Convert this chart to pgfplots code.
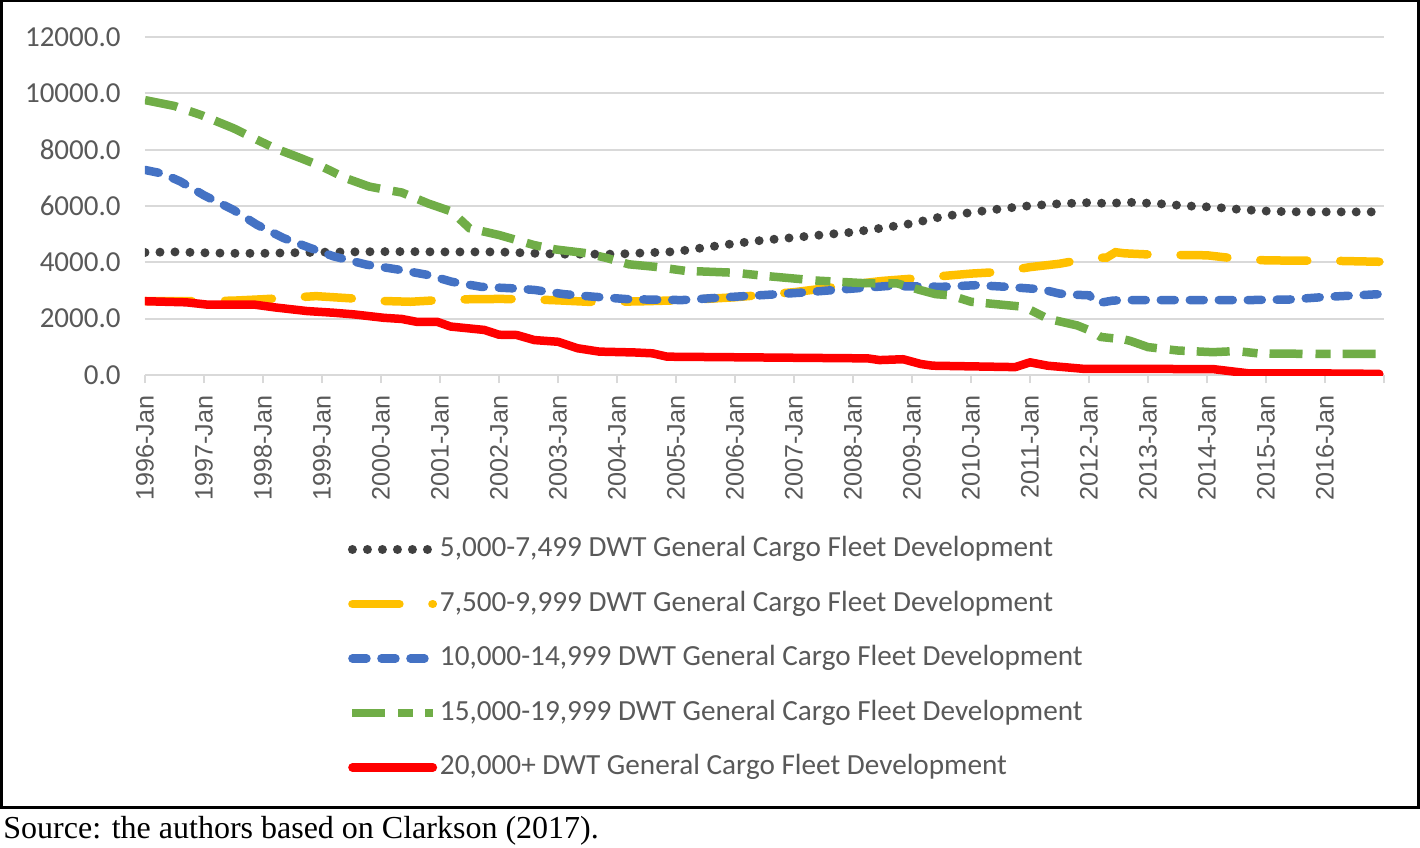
\documentclass[border=0pt]{standalone}
\usepackage{pgfplots}
\pgfplotsset{compat=1.18}
\usepackage{fontspec}
\newfontfamily\calib{Carlito}
\newfontfamily\arialf{Liberation Sans}
\newfontfamily\timesf{Liberation Serif}
\definecolor{txt}{HTML}{595959}
\definecolor{gridc}{HTML}{D9D9D9}
\definecolor{cDot}{HTML}{404040}
\definecolor{cYel}{HTML}{FFC000}
\definecolor{cBlu}{HTML}{4472C4}
\definecolor{cGrn}{HTML}{70AD47}
\definecolor{cRed}{HTML}{FF0000}
\begin{document}
\begin{tikzpicture}
\useasboundingbox (0,0) rectangle (710pt,423.5pt);
\draw[line width=1.25pt] (0.7pt,19.7pt) rectangle (709.2pt,422.9pt);
\node[anchor=base west, inner sep=0pt, font=\timesf\fontsize{16}{19}\selectfont] at (1.5pt,4.5pt) {Source: the authors based on Clarkson (2017).};
\begin{axis}[
  at={(72.5pt,236pt)}, anchor=south west,
  scale only axis, width=619.5pt, height=169pt,
  xmin=1996, xmax=2017, ymin=0, ymax=12000,
  scaled y ticks=false, scaled x ticks=false,
  axis line style={draw=none},
  ymajorgrids, grid style={draw=gridc, line width=1pt},
  ytick={0,2000,4000,6000,8000,10000,12000},
  yticklabels={0.0,2000.0,4000.0,6000.0,8000.0,10000.0,12000.0},
  ytick style={draw=none},
  yticklabel style={font=\calib\fontsize{14.5}{16}\selectfont, text=txt, inner sep=0pt, xshift=-12pt},
  xtick={1996,...,2017},
  xticklabels={1996-Jan,1997-Jan,1998-Jan,1999-Jan,2000-Jan,2001-Jan,2002-Jan,2003-Jan,2004-Jan,2005-Jan,2006-Jan,2007-Jan,2008-Jan,2009-Jan,2010-Jan,2011-Jan,2012-Jan,2013-Jan,2014-Jan,2015-Jan,2016-Jan,{}},
  xtick pos=bottom, xtick align=outside, major tick length=4pt,
  xtick style={draw=gridc, line width=1pt},
  xticklabel style={rotate=90, anchor=east, inner sep=0pt, xshift=-6pt, font=\arialf\fontsize{12.6}{14}\selectfont, text=txt},
  legend cell align=left,
  legend style={at={(axis description cs:0.1638,-0.4763)}, anchor=north west, draw=none, fill=none,
    inner sep=0pt, outer sep=0pt, row sep=13.75pt, column sep=1.3pt,
    nodes={inner sep=0pt, text height=10.5pt, text depth=3pt},
    font=\calib\fontsize{14.6}{17}\selectfont, text=txt},
  legend image code/.code={\draw[#1] (0pt,0pt) -- (40.2pt,0pt);},
]
\addplot[cDot, line width=4.5pt, line cap=round, dash pattern=on 0pt off 7.5pt] coordinates {
(1996.0,4350)(1996.5,4370)(1997.0,4340)(1997.5,4320)(1998.0,4320)(1998.5,4340)(1999.0,4360)(1999.5,4370)
(2000.0,4380)(2000.5,4380)(2001.0,4370)(2001.5,4370)(2002.0,4370)(2002.5,4330)(2003.0,4290)(2003.5,4290)
(2004.0,4290)(2004.5,4340)(2005.0,4380)(2005.5,4530)(2006.0,4670)(2006.5,4790)(2007.0,4880)(2007.5,4980)
(2008.0,5070)(2008.5,5220)(2009.0,5380)(2009.5,5620)(2010.0,5770)(2010.5,5900)(2011.0,6010)(2011.5,6080)
(2012.0,6120)(2012.3,6090)(2012.7,6130)(2013.2,6080)(2013.6,6010)(2014.1,5960)(2014.6,5870)(2015.1,5810)
(2015.6,5790)(2016.92,5790)};
\addlegendentry{5,000-7,499 DWT General Cargo Fleet Development}
\addplot[cYel, line width=4.25pt, line cap=round, dash pattern=on 23.5pt off 16.5pt] coordinates {
(1996.0,2620)(1996.5,2620)(1997.0,2620)(1997.5,2640)(1998.0,2690)(1998.5,2750)(1998.9,2800)(1999.5,2720)
(2000.0,2630)(2000.5,2600)(2001.0,2660)(2001.5,2690)(2002.0,2700)(2002.5,2690)(2003.0,2650)(2003.5,2600)
(2004.0,2600)(2004.5,2620)(2005.0,2650)(2005.5,2700)(2006.0,2760)(2006.5,2850)(2007.0,2940)(2007.5,3070)
(2008.0,3220)(2008.5,3340)(2009.0,3420)(2009.5,3510)(2010.0,3600)(2010.5,3660)(2011.0,3830)(2011.5,3950)
(2012.0,4140)(2012.3,4170)(2012.45,4360)(2012.6,4320)(2013.0,4280)(2013.5,4260)(2014.0,4250)(2014.5,4130)
(2015.0,4070)(2015.5,4060)(2016.0,4060)(2016.92,4020)};
\addlegendentry{7,500-9,999 DWT General Cargo Fleet Development}
\addplot[cBlu, line width=4.25pt, line cap=round, dash pattern=on 7pt off 7.5pt] coordinates {
(1996.0,7280)(1996.3,7150)(1996.6,6870)(1997.0,6380)(1997.5,5860)(1997.9,5330)(1998.35,4860)(1998.8,4510)
(1999.2,4210)(1999.75,3920)(2000.3,3740)(2000.8,3550)(2001.2,3310)(2001.7,3130)(2002.2,3080)(2002.6,3020)
(2003.1,2870)(2003.6,2780)(2004.2,2690)(2005.1,2660)(2006.0,2780)(2006.5,2840)(2007.1,2920)(2007.7,3020)
(2008.2,3100)(2008.6,3160)(2009.5,3130)(2010.1,3190)(2010.6,3130)(2011.2,3040)(2011.5,2890)(2011.75,2850)
(2012.0,2830)(2012.15,2550)(2012.4,2640)(2012.6,2660)(2013.5,2660)(2014.7,2660)(2015.4,2680)(2016.0,2770)
(2016.92,2870)};
\addlegendentry{10,000-14,999 DWT General Cargo Fleet Development}
\addplot[cGrn, line width=4.25pt, line cap=butt, dash pattern=on 16.5pt off 6.5pt on 7.5pt off 6pt] coordinates {
(1996.0,9760)(1996.5,9550)(1996.95,9230)(1997.5,8760)(1997.85,8400)(1998.2,8050)(1998.65,7690)(1999.0,7400)
(1999.4,6990)(1999.8,6690)(2000.1,6570)(2000.35,6480)(2000.8,6090)(2001.2,5800)(2001.5,5210)(2002.0,4970)
(2002.6,4610)(2002.95,4460)(2003.5,4320)(2003.85,4140)(2004.2,3930)(2004.65,3840)(2005.15,3700)(2006.0,3630)
(2006.55,3510)(2007.4,3350)(2008.2,3260)(2008.75,3250)(2009.15,3010)(2009.4,2870)(2009.65,2830)(2010.0,2600)
(2010.45,2510)(2010.9,2420)(2011.3,2000)(2011.8,1760)(2012.05,1550)(2012.2,1350)(2012.6,1260)(2012.7,1210)
(2013.0,990)(2013.5,870)(2014.1,810)(2014.5,850)(2014.9,760)(2016.0,750)(2016.92,750)};
\addlegendentry{15,000-19,999 DWT General Cargo Fleet Development}
\addplot[cRed, line width=4.25pt, line cap=round, line join=round] coordinates {
(1996.0,2620)(1996.7,2580)(1997.05,2500)(1997.85,2500)(1998.2,2400)(1998.75,2270)(1999.2,2210)(1999.55,2150)
(2000.05,2030)(2000.35,1990)(2000.6,1890)(2000.95,1890)(2001.18,1720)(2001.75,1600)(2002.0,1430)(2002.3,1420)
(2002.6,1240)(2003.0,1180)(2003.33,950)(2003.7,830)(2004.3,800)(2004.6,770)(2004.85,650)(2006.0,630)
(2008.25,590)(2008.45,530)(2008.85,560)(2009.15,390)(2009.35,330)(2010.75,280)(2011.0,450)(2011.3,330)
(2011.9,220)(2014.1,210)(2014.3,160)(2014.7,60)(2015.7,60)(2016.92,40)};
\addlegendentry{20,000+ DWT General Cargo Fleet Development}
\end{axis}
\end{tikzpicture}
\end{document}
